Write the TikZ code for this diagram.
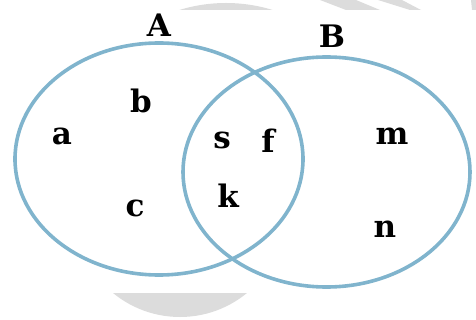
\documentclass[tikz,border=0pt]{standalone}
\usepackage{fontspec}
\setmainfont{DejaVu Serif}
\usetikzlibrary{shapes.geometric}
\definecolor{setblue}{RGB}{128,180,205}
\definecolor{wmgray}{RGB}{220,220,220}
\tikzset{
  setring/.style={ellipse, draw=setblue, line width=3.6pt, inner sep=0pt, outer sep=0pt},
  elem/.style={anchor=base, inner sep=0pt, font=\fontsize{31}{31}\selectfont\bfseries},
  wm/.style={fill=wmgray, draw=none}
}
\begin{document}
\begin{tikzpicture}[x=1pt,y=-1pt]
\useasboundingbox (0,0) rectangle (476,320);
% faint watermark pieces outside the white picture band
\begin{scope}
  \clip (0,0) rectangle (476,10);
  \fill[wm] (226,161) circle (158);
  \fill[wm] (320,0) -- (356,0) -- (380,10) -- (346,10) -- cycle;
  \fill[wm] (378,0) -- (402,0) -- (421,10) -- (410,10) -- cycle;
  \fill[wm] (471,0) -- (476,0) -- (476,10) -- (472,10) -- cycle;
\end{scope}
\begin{scope}
  \clip (0,293) rectangle (476,320);
  \fill[wm] (180,211.5) circle (105.5);
\end{scope}
% sets
\node[setring, minimum width=288pt, minimum height=232pt] (setA) at (159,159) {};
\node[setring, minimum width=287pt, minimum height=230pt] (setB) at (326.5,172) {};
% set labels
\node[elem] (labA) at (159,37) {A};
\node[elem] (labB) at (332,48) {B};
% elements
\node[elem] (ea) at (62,145) {a};
\node[elem] (eb) at (141,113) {b};
\node[elem] (ec) at (135,217) {c};
\node[elem] (es) at (222,149) {s};
\node[elem] (ef) at (268,153) {f};
\node[elem] (ek) at (228,208) {k};
\node[elem] (em) at (392,145) {m};
\node[elem] (en) at (385,237) {n};
\end{tikzpicture}
\end{document}
